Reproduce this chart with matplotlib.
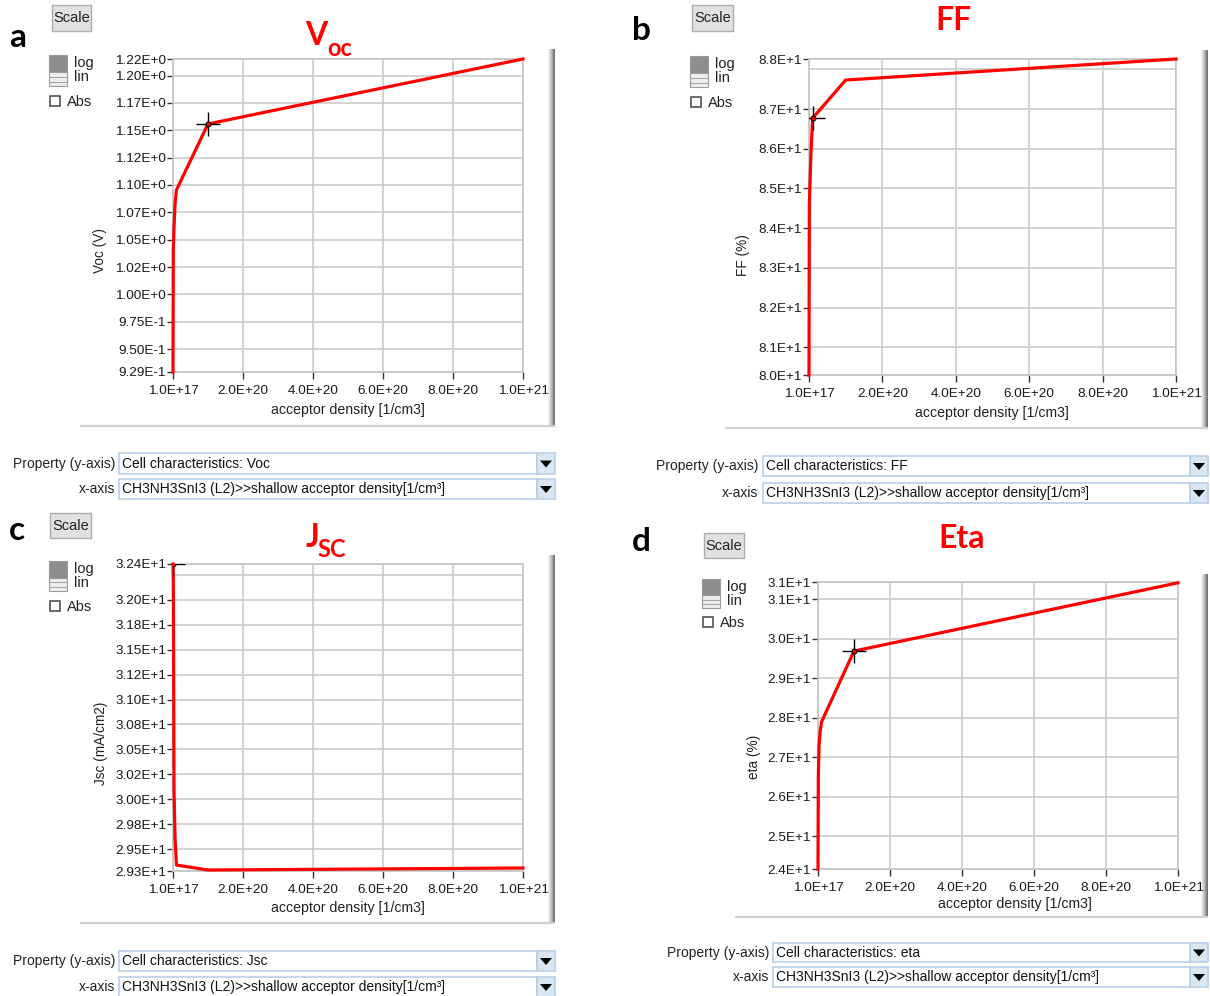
import matplotlib
matplotlib.use("Agg")
import matplotlib.pyplot as plt
from matplotlib.patches import Rectangle, Polygon

W, H = 1210, 996
RED = "#ff0000"
UI_FONT = ["Liberation Sans", "DejaVu Sans"]
HEAD_FONT = ["Lato", "DejaVu Sans"]
plt.rcParams["font.family"] = UI_FONT

# --- data ------------------------------------------------------------------
ACCEPTOR = [1e17, 1e18, 3e18, 6e18, 1e19, 1e20, 1e21]      # 1/cm3
VOC = [0.929, 1.040, 1.062, 1.083, 1.0955, 1.1558, 1.2152]  # V
FF = [80.3, 84.55, 85.2, 86.0, 86.77, 87.73, 88.26]         # %
JSC = [32.36, 32.2, 30.09, 29.6, 29.34, 29.29, 29.31]       # mA/cm2
ETA = [24.17, 26.5, 27.3, 27.65, 27.9, 29.69, 31.42]        # %

X_TICKS = [1e17, 2e20, 4e20, 6e20, 8e20, 1e21]
X_TICK_LABELS = ["1.0E+17", "2.0E+20", "4.0E+20", "6.0E+20", "8.0E+20", "1.0E+21"]

VOC_TICKS = [1.2152, 1.20, 1.175, 1.15, 1.125, 1.10, 1.075, 1.05, 1.025, 1.00, 0.975, 0.95, 0.929]
VOC_TICK_LABELS = ["1.22E+0", "1.20E+0", "1.17E+0", "1.15E+0", "1.12E+0", "1.10E+0", "1.07E+0",
                   "1.05E+0", "1.02E+0", "1.00E+0", "9.75E-1", "9.50E-1", "9.29E-1"]
FF_TICKS = [88.26, 87, 86, 85, 84, 83, 82, 81, 80.3]
FF_TICK_LABELS = ["8.8E+1", "8.7E+1", "8.6E+1", "8.5E+1", "8.4E+1", "8.3E+1", "8.2E+1", "8.1E+1", "8.0E+1"]
FF_EXTRA_GRID = [88.0]
JSC_TICKS = [32.36, 32.0, 31.75, 31.5, 31.25, 31.0, 30.75, 30.5, 30.25, 30.0, 29.75, 29.5, 29.28]
JSC_TICK_LABELS = ["3.24E+1", "3.20E+1", "3.18E+1", "3.15E+1", "3.12E+1", "3.10E+1", "3.08E+1",
                   "3.05E+1", "3.02E+1", "3.00E+1", "2.98E+1", "2.95E+1", "2.93E+1"]
JSC_EXTRA_GRID = [32.25]
ETA_TICKS = [31.44, 31, 30, 29, 28, 27, 26, 25, 24.17]
ETA_TICK_LABELS = ["3.1E+1", "3.1E+1", "3.0E+1", "2.9E+1", "2.8E+1", "2.7E+1", "2.6E+1", "2.5E+1", "2.4E+1"]

PANELS = [
    dict(letter="a", letter_xy=(18, 37), title=[("V", 316, 35, 23), ("oc", 340, 48, 17)],
         y=VOC, ticks=VOC_TICKS, labels=VOC_TICK_LABELS, extra=[], cursor=5,
         ax=(173, 59, 523, 372), ylabel="Voc (V)", ylabel_xy=(100, 250), xlabel_xy=(348, 410),
         scale=(52, 5, 91, 31), loglin=(49, 55, 67, 86), abs_box=(50, 96, 60, 106),
         shadow=(548, 49, 555, 426), shadow_left=80,
         rows=dict(lab_r=115, bl=119, br=537, ar=555, p=(453, 474), x=(479, 499)),
         prop="Cell characteristics: Voc"),
    dict(letter="b", letter_xy=(641, 30), title=[("FF", 953, 20, 23)],
         y=FF, ticks=FF_TICKS, labels=FF_TICK_LABELS, extra=FF_EXTRA_GRID, cursor=4,
         ax=(809, 59, 1176, 375), ylabel="FF (%)", ylabel_xy=(743, 255), xlabel_xy=(992, 413),
         scale=(692, 5, 733, 31), loglin=(690, 56, 708, 87), abs_box=(691, 97, 701, 107),
         shadow=(1201, 50, 1208, 428), shadow_left=725,
         rows=dict(lab_r=758, bl=763, br=1190, ar=1208, p=(456, 476), x=(483, 503)),
         prop="Cell characteristics: FF"),
    dict(letter="c", letter_xy=(17, 530), title=[("J", 312, 537, 23), ("SC", 332, 549, 17)],
         y=JSC, ticks=JSC_TICKS, labels=JSC_TICK_LABELS, extra=JSC_EXTRA_GRID, cursor=0,
         ax=(173, 564, 523, 871), ylabel="Jsc (mA/cm2)", ylabel_xy=(101, 743), xlabel_xy=(348, 908),
         scale=(50, 513, 91, 538), loglin=(49, 561, 67, 591), abs_box=(50, 601, 60, 611),
         shadow=(548, 555, 555, 923), shadow_left=80,
         rows=dict(lab_r=115, bl=119, br=537, ar=555, p=(951, 971), x=(977, 997)),
         prop="Cell characteristics: Jsc"),
    dict(letter="d", letter_xy=(641, 541), title=[("Eta", 962, 538, 23)],
         y=ETA, ticks=ETA_TICKS, labels=ETA_TICK_LABELS, extra=[], cursor=5,
         ax=(818, 582, 1178, 869), ylabel="eta (%)", ylabel_xy=(754, 757), xlabel_xy=(1015, 904),
         scale=(704, 533, 744, 558), loglin=(702, 579, 720, 608), abs_box=(703, 617, 713, 627),
         shadow=(1201, 574, 1208, 917), shadow_left=735,
         rows=dict(lab_r=769, bl=773, br=1190, ar=1208, p=(943, 962), x=(967, 987)),
         prop="Cell characteristics: eta"),
]
XAXIS_TEXT = "CH3NH3SnI3 (L2)>>shallow acceptor density[1/cm\u00b3]"


def px_rect(box):
    l, t, r, b = box
    return [l / W, 1 - b / H, (r - l) / W, (b - t) / H]


def rect(ov, l, t, r, b, **kw):
    ov.add_patch(Rectangle((l, t), r - l, b - t, **kw))


def draw_widgets(ov, p):
    l, t, r, b = p["scale"]
    rect(ov, l, t, r, b, fc="#e1e1e1", ec="#adadad", lw=1)
    ov.text((l + r) / 2, (t + b) / 2, "Scale", ha="center", va="center", fontsize=10.5, color="#222222")

    l, t, r, b = p["loglin"]
    mid = t + (b - t) * 0.55
    rect(ov, l, t, r, mid, fc="#8e8e8e", ec="#9a9a9a", lw=0.8)
    rect(ov, l, mid, r, b, fc="#eeeeee", ec="#9a9a9a", lw=0.8)
    for f in (0.35, 0.7):
        yy = mid + (b - mid) * f
        ov.plot([l, r], [yy, yy], color="#a8a8a8", lw=0.8)
    ov.text(r + 7, t + 8, "log", ha="left", va="center", fontsize=10.5, color="#222222")
    ov.text(r + 7, t + 22, "lin", ha="left", va="center", fontsize=10.5, color="#222222")

    l, t, r, b = p["abs_box"]
    rect(ov, l, t, r, b, fc="white", ec="#444444", lw=1.1)
    ov.text(r + 7, (t + b) / 2 + 1, "Abs", ha="left", va="center", fontsize=10.5, color="#222222")

    ov.text(*p["letter_xy"], p["letter"], ha="center", va="center", fontsize=24,
            fontweight="bold", family=HEAD_FONT, color="black")
    for txt, x, y, size in p["title"]:
        ov.text(x, y, txt, ha="center", va="center", fontsize=size, fontweight="bold",
                family=HEAD_FONT, color=RED)

    # shadowed frame of the graph area
    l, t, r, b = p["shadow"]
    shades = ["#f2f2f2", "#e2e2e2", "#cfcfcf", "#b8b8b8", "#a0a0a0", "#888888", "#707070"]
    for i, c in enumerate(shades):
        rect(ov, l + i, t, l + i + 1, b, fc=c, ec="none")
    ov.plot([p["shadow_left"], r], [b, b], color="#d2d2d2", lw=1.6, solid_capstyle="butt")

    ov.text(*p["ylabel_xy"], p["ylabel"], rotation=90, ha="center", va="center",
            fontsize=9.8, color="#222222")
    ov.text(*p["xlabel_xy"], "acceptor density [1/cm3]", ha="center", va="center",
            fontsize=10.2, color="#222222")

    rw = p["rows"]
    for (t, b), lab, val in ((rw["p"], "Property (y-axis)", p["prop"]),
                             (rw["x"], "x-axis", XAXIS_TEXT)):
        rect(ov, rw["bl"], t, rw["br"], b, fc="white", ec="#b9cfe8", lw=1.2)
        rect(ov, rw["br"], t, rw["ar"], b, fc="#d9e6f4", ec="#b9cfe8", lw=1.2)
        cx, cy = (rw["br"] + rw["ar"]) / 2, (t + b) / 2
        ov.add_patch(Polygon([(cx - 6, cy - 3), (cx + 6, cy - 3), (cx, cy + 4)], closed=True,
                             fc="black", ec="none"))
        ov.text(rw["lab_r"], cy, lab, ha="right", va="center", fontsize=10, color="#222222")
        ov.text(rw["bl"] + 3, cy, val, ha="left", va="center", fontsize=10, color="#111111")


def draw_graph(fig, p):
    ax = fig.add_axes(px_rect(p["ax"]), zorder=2)
    ax.plot(ACCEPTOR, p["y"], color=RED, lw=2.3, solid_joinstyle="round", zorder=3, clip_on=False)
    i = p["cursor"]
    ax.plot([ACCEPTOR[i]], [p["y"][i]], marker="+", ms=17, mew=1.0, color="black", zorder=4)
    ax.plot([ACCEPTOR[i]], [p["y"][i]], marker="o", ms=3.5, mfc=RED, mec="black", mew=0.8, zorder=5)

    ax.set_xlim(X_TICKS[0], X_TICKS[-1])
    ax.set_ylim(min(p["ticks"]), max(p["ticks"]))
    ax.set_xticks(X_TICKS)
    ax.set_xticklabels(X_TICK_LABELS)
    ax.set_yticks(p["ticks"])
    ax.set_yticklabels(p["labels"])
    if p["extra"]:
        ax.set_yticks(p["extra"], minor=True)
        ax.tick_params(axis="y", which="minor", length=0)
        ax.grid(True, which="minor", axis="y", color="#cccccc", lw=1.2)
    ax.grid(True, color="#cccccc", lw=1.2)
    ax.set_axisbelow(True)
    for s in ax.spines.values():
        s.set_color("#c4c4c4")
        s.set_linewidth(1.2)
    ax.tick_params(axis="y", direction="out", length=4, width=1, color="#333333", pad=1,
                   labelsize=9.7, labelcolor="#1a1a1a")
    ax.tick_params(axis="x", direction="out", length=5, width=1, color="#333333", pad=4,
                   labelsize=9.7, labelcolor="#1a1a1a")
    return ax


fig = plt.figure(figsize=(W / 100, H / 100), dpi=100)
ov = fig.add_axes([0, 0, 1, 1], zorder=0)
ov.set_xlim(0, W)
ov.set_ylim(H, 0)
ov.axis("off")

for p in PANELS:
    draw_widgets(ov, p)
    draw_graph(fig, p)

fig.savefig("out.png", dpi=100)
